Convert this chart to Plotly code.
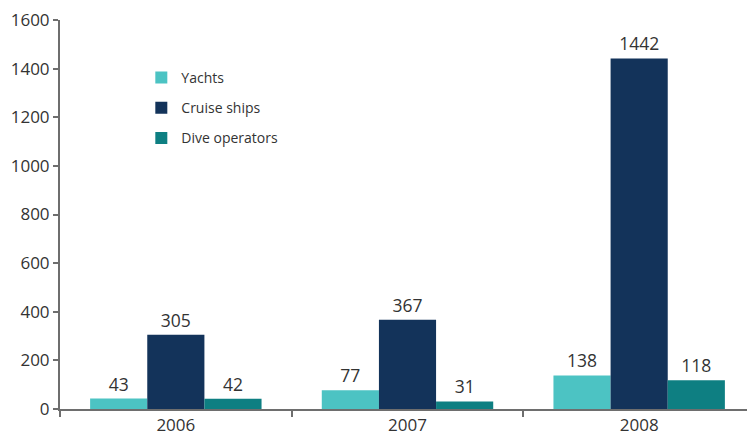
import plotly.graph_objects as go

years = ["2006", "2007", "2008"]
yachts = [43, 77, 138]
cruise = [305, 367, 1442]
dive = [42, 31, 118]
series_names = ["Yachts", "Cruise ships", "Dive operators"]
colors = ["#4CC3C3", "#13335A", "#0E7F82"]

fig = go.Figure()
for i, (name, vals, col) in enumerate(zip(series_names, [yachts, cruise, dive], colors)):
    fig.add_trace(go.Bar(
        x=years, y=vals, name=name, marker_color=col, marker_line_width=0,
        legendgroup=f"g{i}",
        text=[str(v) for v in vals], textposition="outside",
        textfont=dict(size=17.5, color="#333333"), cliponaxis=False,
    ))

# page body has an 8px default margin; compensate so the chart fills 755x441
fig.update_layout(
    width=747, height=433,
    margin=dict(l=52, r=0, t=12, b=32, autoexpand=False),
    paper_bgcolor="white", plot_bgcolor="white",
    barmode="group", bargap=0.26, bargroupgap=0,
    font=dict(family="Open Sans, sans-serif", color="#333333"),
    showlegend=True,
    legend=dict(x=0.117, y=0.892, xanchor="left", yanchor="top",
                font=dict(size=14, color="#333333"), tracegroupgap=9,
                traceorder="grouped", bgcolor="rgba(0,0,0,0)"),
    xaxis=dict(type="category", showline=True, linecolor="#6e6e6e", linewidth=2,
               ticks="outside", tickson="boundaries", ticklen=6, tickcolor="#6e6e6e",
               tickwidth=2, showgrid=False, automargin=False,
               tickfont=dict(size=17, color="#333333")),
    yaxis=dict(range=[0, 1600], dtick=200, showline=True, linecolor="#6e6e6e",
               linewidth=2, ticks="outside", ticklen=5, tickcolor="#6e6e6e",
               tickwidth=2, showgrid=False, zeroline=False, automargin=False,
               ticklabeloverflow="allow",
               tickfont=dict(size=17, color="#333333")),
)

fig.write_html("out.html")
